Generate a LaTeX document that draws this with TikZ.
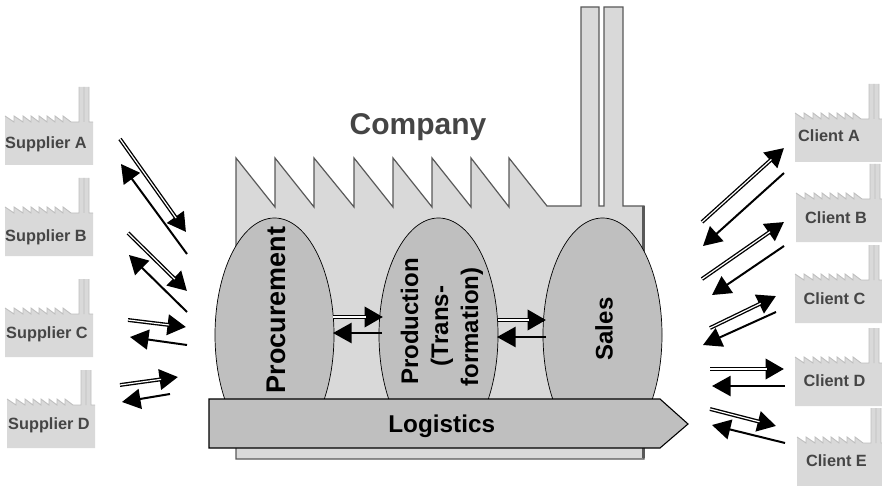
\documentclass[tikz,border=0pt]{standalone}
\usepackage{fontspec}
\setmainfont{Liberation Sans}
\usetikzlibrary{arrows.meta}
\definecolor{bodyfill}{HTML}{D9D9D9}
\definecolor{bandfill}{HTML}{BFBFBF}
\definecolor{inkgrey}{HTML}{595959}
\definecolor{labelgrey}{HTML}{454545}
\definecolor{miniline}{HTML}{BEBEBE}
\tikzset{
  x=1pt,y=-1pt,
  building/.style={draw=inkgrey,line width=1.2pt,fill=bodyfill,line join=miter},
  function/.style={draw=black,line width=0.7pt,fill=bandfill},
  band/.style={draw=black,line width=1.1pt,fill=bandfill},
  flowtip/.style={-{Triangle[length=18.5pt,width=20pt,fill=black]}},
  doubleflow/.style={draw=black,line width=3.9pt,flowtip},
  doublegap/.style={draw=white,line width=1.2pt,shorten >=17pt},
  singleflow/.style={draw=black,line width=2pt,flowtip},
  partner/.style={font=\bfseries\fontsize{16.3}{18}\selectfont,text=labelgrey,anchor=base,inner sep=0pt},
  fnlabel/.style={text=black,anchor=base,inner sep=0pt,align=center},
  mini/.pic={
    \fill[bodyfill] (0,35) -- (0,78) -- (88,78) -- (88,35) -- (84,35) -- (84,0) -- (74,0) -- (74,35) -- (66,35)
      -- (58,29) -- (58,35) -- (50,29) -- (50,35) -- (42,29) -- (42,35) -- (34,29) -- (34,35) -- (26,29) -- (26,35) -- (18,29) -- (18,35) -- (9,29) -- (9,35) -- (0,29) -- cycle;
    \draw[miniline,line width=0.9pt] (0,29) -- (9,35) -- (9,29) -- (18,35) -- (18,29) -- (26,35) -- (26,29) -- (34,35) -- (34,29) -- (42,35) -- (42,29) -- (50,35) -- (50,29) -- (58,35) -- (58,29) -- (66,35) -- (74,35) -- (74,0) (84,0) -- (84,35) -- (88,35) (79,0) -- (79,35);
  }
}
\newcommand{\flow}[5]{% name, x1,y1,x2,y2 (single line)
  \coordinate (#1s) at (#2,#3);
  \coordinate (#1e) at (#4,#5);
  \draw[singleflow] (#1s) -- (#1e);
}
\newcommand{\dflow}[5]{% name, x1,y1,x2,y2 (double line)
  \coordinate (#1s) at (#2,#3);
  \coordinate (#1e) at (#4,#5);
  \draw[doubleflow] (#1s) -- (#1e);
  \draw[doublegap] (#1s) -- (#1e);
}
\begin{document}
\begin{tikzpicture}
\useasboundingbox (0,0) rectangle (882,486);
\clip (0,0) rectangle (882,486);
% small factories
\pic at (5,87) {mini};
\pic at (5,178) {mini};
\pic at (5,279) {mini};
\pic at (7,370) {mini};
\pic at (795,84) {mini};
\pic at (796,164) {mini};
\pic at (795,245) {mini};
\pic at (795,328) {mini};
\pic at (797,408) {mini};
\node[partner] (supA) at (46,149) {Supplier A};
\node[partner] (supB) at (46,241) {Supplier B};
\node[partner] (supC) at (47,338) {Supplier C};
\node[partner] (supD) at (49,429) {Supplier D};
\node[partner] (cliA) at (829,142) {Client A};
\node[partner] (cliB) at (836,223) {Client B};
\node[partner] (cliC) at (834.5,304) {Client C};
\node[partner] (cliD) at (834.5,386) {Client D};
\node[partner] (cliE) at (836.5,466) {Client E};
% company building
\draw[building] (236,158) -- (275,207) -- (275,158) -- (314,207) -- (314,158) -- (354,207) -- (354,158) -- (393,207) -- (393,158) -- (432,207) -- (432,158) -- (471,207) -- (471,158) -- (509,207) -- (509,158) -- (547,206)
  -- (581,206) -- (581,7) -- (599,7) -- (599,206) -- (604,206) -- (604,7) -- (623,7) -- (623,206) -- (644,206) -- (644,459) -- (236,459) -- cycle;
\draw[inkgrey,line width=3pt] (643,206) -- (643,458);
\node[font=\bfseries\fontsize{30}{32}\selectfont,text=labelgrey,anchor=base,inner sep=0pt] (company) at (418,135) {Company};
% functions
\begin{scope}
\clip (200,200) rectangle (680,400);
\draw[function] (274.5,335) ellipse [x radius=59.5,y radius=117];
\draw[function] (438.5,335) ellipse [x radius=59.5,y radius=117];
\draw[function] (602.5,335) ellipse [x radius=59.5,y radius=117];
\end{scope}
\node[fnlabel,font=\bfseries\fontsize{27}{30}\selectfont,rotate=90] (proc) at (285,310) {Procurement};
\node[fnlabel,font=\bfseries\fontsize{24}{30}\selectfont,rotate=90] (prod1) at (418,321.5) {Production};
\node[fnlabel,font=\bfseries\fontsize{24}{30}\selectfont,rotate=90] (prod2) at (448,326) {(Trans-};
\node[fnlabel,font=\bfseries\fontsize{24}{30}\selectfont,rotate=90] (prod3) at (478,327) {formation)};
\node[fnlabel,font=\bfseries\fontsize{24}{26}\selectfont,rotate=90] (sales) at (612.5,329) {Sales};
\draw[band] (209,399) -- (660,399) -- (688,424) -- (660,448) -- (209,448) -- cycle;
\node[fnlabel,font=\bfseries\fontsize{24.3}{26}\selectfont] (logistics) at (441.7,432.7) {Logistics};
% flows
\dflow{a}{120}{139}{186}{232}
\flow{b}{187}{254}{121}{164}
\dflow{c}{128}{233}{187}{291}
\flow{d}{187}{312}{129}{255}
\dflow{e}{128}{320}{186}{327}
\flow{f}{187}{345}{130}{337}
\dflow{g}{120}{385}{178}{377}
\flow{h}{170}{394}{122}{402}
\dflow{i}{702}{222}{784}{148}
\flow{j}{784}{173}{703}{246}
\dflow{k}{702}{279}{784}{222}
\flow{l}{784}{246}{712}{295}
\dflow{m}{710}{328}{776}{296}
\flow{n}{776}{312}{703}{345}
\dflow{o}{710}{369}{784}{369}
\flow{p}{785}{386}{712}{386}
\dflow{q}{710}{409}{776}{426}
\flow{r}{785}{443}{712}{425}
\dflow{s}{333}{317}{383}{317}
\flow{t}{382}{333}{333}{333}
\dflow{u}{498}{320}{546}{320}
\flow{v}{546}{337}{497}{337}
\end{tikzpicture}
\end{document}
